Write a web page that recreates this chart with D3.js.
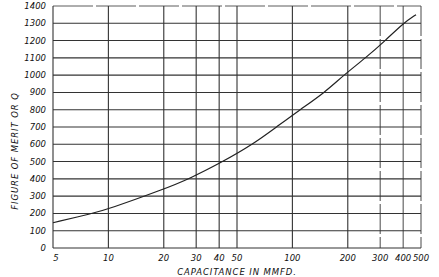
<!DOCTYPE html>
<html>
<head>
<meta charset="utf-8">
<script src="https://cdn.jsdelivr.net/npm/d3@7"></script>
<style>
  body { margin: 0; background: #fff; }
  text { font-family: "DejaVu Sans", sans-serif; font-style: italic; fill: #111; }
</style>
</head>
<body>
<div id="chart"></div>
<script>
// values
var capacitance = [5, 8.2, 10, 20, 27.5, 42, 61, 82, 110, 150, 190, 250, 320, 400, 470];
var meritQ = [146, 200, 225, 340, 400, 500, 600, 700, 800, 900, 1000, 1100, 1200, 1300, 1350];

var xTicks = [5, 10, 20, 30, 40, 50, 100, 200, 300, 400, 500];
var yTicks = [0, 100, 200, 300, 400, 500, 600, 700, 800, 900, 1000, 1100, 1200, 1300, 1400];

var W = 439, H = 277;
var plotLeft = 53, plotRight = 421, plotTop = 6, plotBottom = 248;

var svg = d3.select("#chart")
  .append("svg")
    .attr("width", W)
    .attr("height", H);

var x = d3.scaleLog()
  .domain([5, 500])
  .range([plotLeft, plotRight]);

var y = d3.scaleLinear()
  .domain([0, 1400])
  .range([plotBottom, plotTop]);

// horizontal grid
svg.append("g")
  .selectAll("line")
  .data(yTicks)
  .enter()
  .append("line")
    .attr("x1", plotLeft)
    .attr("x2", plotRight)
    .attr("y1", function(d) { return y(d); })
    .attr("y2", function(d) { return y(d); })
    .attr("stroke", "#333")
    .attr("stroke-width", function(d) { return d == 1400 ? 0.8 : 1.1; })
    .attr("stroke-dasharray", function(d) { return d == 1400 ? "40,3" : null; });

// vertical grid
svg.append("g")
  .selectAll("line")
  .data(xTicks)
  .enter()
  .append("line")
    .attr("x1", function(d) { return x(d); })
    .attr("x2", function(d) { return x(d); })
    .attr("y1", plotTop)
    .attr("y2", plotBottom)
    .attr("stroke", "#333")
    .attr("stroke-width", function(d) { return d >= 300 ? 0.9 : 1.1; })
    .attr("stroke-dasharray", function(d) { return d == 300 || d == 500 ? "30,3" : null; });

// y tick labels
svg.append("g")
  .selectAll("text")
  .data(yTicks)
  .enter()
  .append("text")
    .attr("x", 46)
    .attr("y", function(d) { return y(d) + 3; })
    .attr("text-anchor", "end")
    .style("font-size", "8.5px")
    .text(function(d) { return d; });

// x tick labels
svg.append("g")
  .selectAll("text")
  .data(xTicks)
  .enter()
  .append("text")
    .attr("x", function(d) { return x(d) + (d == 5 ? 3 : 0); })
    .attr("y", 261)
    .attr("text-anchor", "middle")
    .style("font-size", "8.5px")
    .text(function(d) { return d; });

// axis titles
svg.append("text")
  .attr("x", 237)
  .attr("y", 275)
  .attr("text-anchor", "middle")
  .style("font-size", "8.5px")
  .style("letter-spacing", "0.9px")
  .text("CAPACITANCE IN MMFD.");

svg.append("text")
  .attr("transform", "translate(18,151) rotate(-90)")
  .attr("text-anchor", "middle")
  .style("font-size", "8.5px")
  .style("letter-spacing", "0.9px")
  .text("FIGURE OF MERIT OR Q");

// curve
var pts = capacitance.map(function(c, i) { return [c, meritQ[i]]; });
var line = d3.line()
  .x(function(d) { return x(d[0]); })
  .y(function(d) { return y(d[1]); })
  .curve(d3.curveBasis);

svg.append("path")
  .datum(pts)
  .attr("d", line)
  .attr("fill", "none")
  .attr("stroke", "#222")
  .attr("stroke-width", 1.2);
</script>
</body>
</html>
